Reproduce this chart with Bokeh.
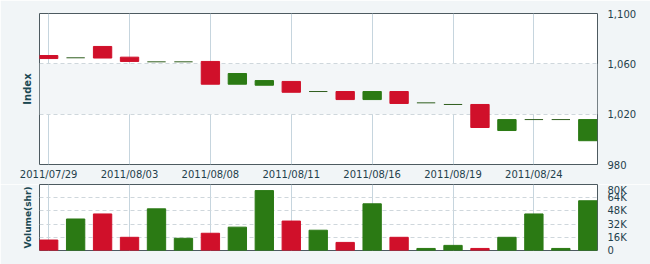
from bokeh.plotting import figure
from bokeh.layouts import column
from bokeh.models import FixedTicker, LinearAxis, Range1d, ColumnDataSource
from bokeh.embed import file_html
from bokeh.resources import INLINE

dates = ["2011/07/29", "2011/08/01", "2011/08/02", "2011/08/03", "2011/08/04", "2011/08/05",
         "2011/08/08", "2011/08/09", "2011/08/10", "2011/08/11", "2011/08/12", "2011/08/15",
         "2011/08/16", "2011/08/17", "2011/08/18", "2011/08/19", "2011/08/22", "2011/08/23",
         "2011/08/24", "2011/08/25", "2011/08/26"]
opens = [1064.2, 1064.8, 1064.6, 1061.9, 1061.6, 1061.6, 1043.8, 1052.3, 1046.7, 1037.4, 1038.0,
         1031.6, 1038.0, 1028.5, 1029.0, 1027.7, 1009.4, 1015.7, 1015.7, 1015.7, 1015.7]
closes = [1066.6, 1064.8, 1073.8, 1065.3, 1061.6, 1061.6, 1061.9, 1043.8, 1043.0, 1046.0, 1038.0,
          1038.0, 1031.6, 1038.0, 1029.0, 1027.7, 1027.7, 1007.0, 1015.7, 1015.7, 998.9]
volumes = [12700, 38200, 44300, 16000, 50500, 14800, 20900, 28300, 72600, 35700, 24600,
           9800, 56600, 16000, 2500, 6200, 2500, 16000, 44300, 2500, 60300]
price_ticks = [980, 1020, 1060, 1100]
price_labels = ["980", "1,020", "1,060", "1,100"]
vol_ticks = [0, 16000, 32000, 48000, 64000, 80000]
vol_labels = ["0", "16K", "32K", "48K", "64K", "80K"]
date_tick_idx = [0, 3, 6, 9, 12, 15, 18]

RED = "#d0102a"
GREEN = "#2b7a14"
TEXT = "#1f3f4c"
BG = "#f1f5f7"

idx = list(range(len(dates)))
colors = [RED if c > o else GREEN for o, c in zip(opens, closes)]
body = [i for i in idx if opens[i] != closes[i]]
doji = [i for i in idx if opens[i] == closes[i]]

bsrc = ColumnDataSource(dict(
    x=[i for i in body],
    top=[max(opens[i], closes[i]) for i in body],
    bottom=[min(opens[i], closes[i]) for i in body],
    color=[colors[i] for i in body]))
dsrc = ColumnDataSource(dict(
    x0=[i - 0.34 for i in doji], x1=[i + 0.34 for i in doji],
    y=[closes[i] for i in doji]))
vsrc = ColumnDataSource(dict(x=idx, v=volumes, color=colors))

xr = Range1d(-0.34, 20.36)

p1 = figure(width=650, height=184, x_range=xr, y_range=Range1d(980, 1100),
            output_backend="svg", toolbar_location=None, y_axis_location="right",
            min_border_left=39, min_border_right=53, min_border_top=13, min_border_bottom=20)
p1.background_fill_color = "white"
p1.border_fill_color = BG
p1.outline_line_color = "#4d5a60"
p1.outline_line_width = 1

p1.vbar(x="x", width=0.68, top="top", bottom="bottom", fill_color="color",
        line_color="color", source=bsrc)
p1.segment(x0="x0", x1="x1", y0="y", y1="y", line_color="#2f5e1e", line_width=1, source=dsrc)

p1.xaxis.ticker = FixedTicker(ticks=date_tick_idx)
p1.xaxis.major_label_overrides = {i: dates[i] for i in date_tick_idx}
p1.xaxis.axis_line_color = None
p1.xaxis.major_tick_line_color = None
p1.xaxis.minor_tick_line_color = None
p1.xaxis.major_tick_in = 0
p1.xaxis.major_tick_out = 0
p1.xaxis.major_label_standoff = 4
p1.xaxis.major_label_text_font = "DejaVu Sans"
p1.xaxis.major_label_text_font_size = "10px"
p1.xaxis.major_label_text_color = TEXT

p1.yaxis.ticker = FixedTicker(ticks=price_ticks)
p1.yaxis.major_label_overrides = dict(zip(price_ticks, price_labels))
p1.yaxis.axis_line_color = None
p1.yaxis.major_tick_line_color = None
p1.yaxis.minor_tick_line_color = None
p1.yaxis.major_label_standoff = 4
p1.yaxis.major_label_text_font = "DejaVu Sans"
p1.yaxis.major_label_text_font_size = "10px"
p1.yaxis.major_label_text_color = TEXT

p1.xgrid.ticker = FixedTicker(ticks=date_tick_idx)
p1.xgrid.grid_line_color = "#c6d5de"
p1.ygrid.ticker = FixedTicker(ticks=price_ticks)
p1.ygrid.grid_line_color = "#cfd7dc"
p1.ygrid.grid_line_dash = "4 3"
p1.ygrid.band_fill_color = "#f3f6f8"
p1.ygrid.band_fill_alpha = 1.0

lax1 = LinearAxis(ticker=FixedTicker(ticks=[]), axis_label="Index",
                  axis_line_color=None, major_tick_line_color=None, minor_tick_line_color=None,
                  axis_label_standoff=7, axis_label_text_font="DejaVu Sans",
                  axis_label_text_font_size="10px", axis_label_text_font_style="bold",
                  axis_label_text_color="#1b4852")
p1.add_layout(lax1, "left")

p2 = figure(width=650, height=80, x_range=xr, y_range=Range1d(0, 80000),
            output_backend="svg", toolbar_location=None, y_axis_location="right",
            x_axis_location=None,
            min_border_left=39, min_border_right=53, min_border_top=0, min_border_bottom=14)
p2.background_fill_color = "white"
p2.border_fill_color = BG
p2.outline_line_color = "#4d5a60"
p2.outline_line_width = 1

p2.vbar(x="x", width=0.68, top="v", bottom=0, fill_color="color", line_color="color", source=vsrc)

p2.yaxis.ticker = FixedTicker(ticks=vol_ticks)
p2.yaxis.major_label_overrides = dict(zip(vol_ticks, vol_labels))
p2.yaxis.axis_line_color = None
p2.yaxis.major_tick_line_color = None
p2.yaxis.minor_tick_line_color = None
p2.yaxis.major_label_standoff = 4
p2.yaxis.major_label_text_font = "DejaVu Sans"
p2.yaxis.major_label_text_font_size = "10px"
p2.yaxis.major_label_text_color = TEXT

p2.xgrid.ticker = FixedTicker(ticks=date_tick_idx)
p2.xgrid.grid_line_color = "#c6d5de"
p2.ygrid.ticker = FixedTicker(ticks=vol_ticks)
p2.ygrid.grid_line_color = "#cfd7dc"
p2.ygrid.grid_line_dash = "4 3"

lax2 = LinearAxis(ticker=FixedTicker(ticks=[]), axis_label="Volume(shr)",
                  axis_line_color=None, major_tick_line_color=None, minor_tick_line_color=None,
                  axis_label_standoff=7, axis_label_text_font="DejaVu Sans",
                  axis_label_text_font_size="9px", axis_label_text_font_style="bold",
                  axis_label_text_color="#1b4852")
p2.add_layout(lax2, "left")

layout = column(p1, p2, spacing=0)
open("out.html", "w").write(file_html(layout, INLINE))
